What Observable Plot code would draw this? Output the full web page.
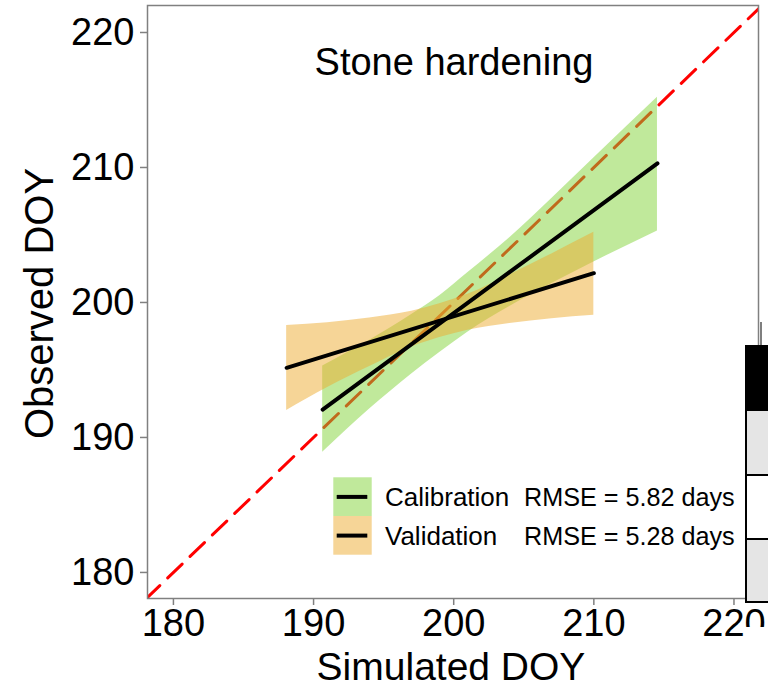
<!DOCTYPE html>
<html>
<head>
<meta charset="utf-8">
<script src="https://cdn.jsdelivr.net/npm/d3@7"></script>
<script src="https://cdn.jsdelivr.net/npm/@observablehq/plot@0.6"></script>
<style>
  html, body { margin: 0; padding: 0; background: white; }
  #chart { position: relative; width: 768px; height: 692px; }
</style>
</head>
<body>
<div id="chart"></div>
<script>
// ---- data ----
const titleText = "Stone hardening";
const xLabel = "Simulated DOY";
const yLabel = "Observed DOY";
const xTicks = [180, 190, 200, 210, 220];
const yTicks = [180, 190, 200, 210, 220];
const diagX = [178, 222];

// Calibration: fitted line and confidence band
const calFitX = [190.65, 214.54];
const calFitY = [192.07, 210.3];
const calX  = [190.65, 194, 197, 199, 201, 204, 207, 210, 214.54];
const calLo = [188.9, 192.1, 194.7, 196.3, 197.8, 199.7, 201.4, 203.0, 205.3];
const calHi = [195.3, 197.2, 199.1, 200.5, 202.2, 204.8, 207.7, 210.7, 215.2];

// Validation: fitted line and confidence band
const valFitX = [188.08, 210.0];
const valFitY = [195.16, 202.17];
const valX  = [188.08, 191, 194, 197, 199, 201, 204, 207, 210];
const valLo = [192.0, 193.7, 195.25, 196.7, 197.4, 197.95, 198.45, 198.8, 199.05];
const valHi = [198.3, 198.5, 198.85, 199.35, 199.9, 200.6, 202.05, 203.6, 205.2];

const legendNames = ["Calibration", "Validation"];
const legendRmse = ["RMSE = 5.82 days", "RMSE = 5.28 days"];

// ---- build tables ----
const green = "#81d337", orange = "#edab2f";
const diag = diagX.map(v => ({x: v, y: v}));
const calBand = calX.map((x, i) => ({x, lo: calLo[i], hi: calHi[i]}));
const valBand = valX.map((x, i) => ({x, lo: valLo[i], hi: valHi[i]}));
const calFit = calFitX.map((x, i) => ({x, y: calFitY[i]}));
const valFit = valFitX.map((x, i) => ({x, y: valFitY[i]}));
const FONT = "'Liberation Sans', Arial, Helvetica, sans-serif";

const svg = Plot.plot({
  width: 768, height: 692,
  marginLeft: 147, marginRight: 10, marginTop: 5, marginBottom: 94,
  x: {domain: [178.15, 221.75]},
  y: {domain: [178.07, 222.0]},
  style: {fontFamily: FONT, background: "white", color: "black"},
  marks: [
    Plot.line(diag, {x: "x", y: "y", stroke: "#ff0000", strokeWidth: 3, strokeDasharray: "20,11", clip: true}),
    Plot.areaY(calBand, {x: "x", y1: "lo", y2: "hi", fill: green, fillOpacity: 0.5, curve: "monotone-x"}),
    Plot.areaY(valBand, {x: "x", y1: "lo", y2: "hi", fill: orange, fillOpacity: 0.5, curve: "monotone-x"}),
    Plot.line(calFit, {x: "x", y: "y", stroke: "black", strokeWidth: 4}),
    Plot.line(valFit, {x: "x", y: "y", stroke: "black", strokeWidth: 4}),
    Plot.frame({stroke: "#808080", strokeWidth: 1.5}),
    Plot.axisX({ticks: xTicks, tickSize: 7, tickPadding: 4, stroke: "#808080", fill: "black", fontSize: 38, label: null, strokeWidth: 1.5}),
    Plot.axisY({ticks: yTicks, tickSize: 7, tickPadding: 6, stroke: "#808080", fill: "black", fontSize: 38, label: null, strokeWidth: 1.5})
  ]
});
document.getElementById("chart").appendChild(svg);

const s = d3.select(svg);
// title
s.append("text").attr("x", 454).attr("y", 75).attr("text-anchor", "middle")
  .attr("font-size", 38).attr("font-family", FONT).attr("fill", "black").text(titleText);
// axis titles
s.append("text").attr("x", 451).attr("y", 680).attr("text-anchor", "middle")
  .attr("font-size", 39).attr("font-family", FONT).attr("fill", "black").text(xLabel);
s.append("text").attr("transform", "translate(53,303.5) rotate(-90)").attr("text-anchor", "middle")
  .attr("font-size", 40).attr("font-family", FONT).attr("fill", "black").text(yLabel);

// legend
const lg = s.append("g").attr("text-anchor", "start");
const keyFill = [green, orange];
legendNames.forEach((name, i) => {
  const y0 = 477.3 + i * 38.7;
  lg.append("rect").attr("x", 333.3).attr("y", y0).attr("width", 38.4).attr("height", 38.7)
    .attr("fill", keyFill[i]).attr("fill-opacity", 0.5);
  lg.append("line").attr("x1", 336.7).attr("x2", 367.3).attr("y1", y0 + 19.6).attr("y2", y0 + 19.6)
    .attr("stroke", "black").attr("stroke-width", 4);
  lg.append("text").attr("x", 385).attr("y", y0 + 29).attr("text-anchor", "start").attr("font-size", 26).attr("font-family", FONT)
    .attr("fill", "black").text(name);
  lg.append("text").attr("x", 524).attr("y", y0 + 29).attr("text-anchor", "start").attr("font-size", 25.2).attr("font-family", FONT)
    .attr("fill", "black").text(legendRmse[i]);
});

// cropped neighbouring panel at right edge (artifact in the reference)
const ov = s.append("g");
ov.append("rect").attr("x", 745).attr("y", 627).attr("width", 30).attr("height", 70).attr("fill", "white");
ov.append("line").attr("x1", 761).attr("x2", 761).attr("y1", 322).attr("y2", 345).attr("stroke", "#555").attr("stroke-width", 1.5);
ov.append("rect").attr("x", 746).attr("y", 345).attr("width", 30).attr("height", 66).attr("fill", "black");
ov.append("rect").attr("x", 746).attr("y", 411).attr("width", 30).attr("height", 64).attr("fill", "#e5e5e5");
ov.append("rect").attr("x", 746).attr("y", 475).attr("width", 30).attr("height", 64).attr("fill", "white");
ov.append("rect").attr("x", 746).attr("y", 539).attr("width", 30).attr("height", 63).attr("fill", "#e5e5e5");
[475, 539, 602].forEach(y => ov.append("line").attr("x1", 745).attr("x2", 768).attr("y1", y).attr("y2", y)
  .attr("stroke", "black").attr("stroke-width", 2));
ov.append("line").attr("x1", 746).attr("x2", 746).attr("y1", 345).attr("y2", 603).attr("stroke", "black").attr("stroke-width", 2);
</script>
</body>
</html>
